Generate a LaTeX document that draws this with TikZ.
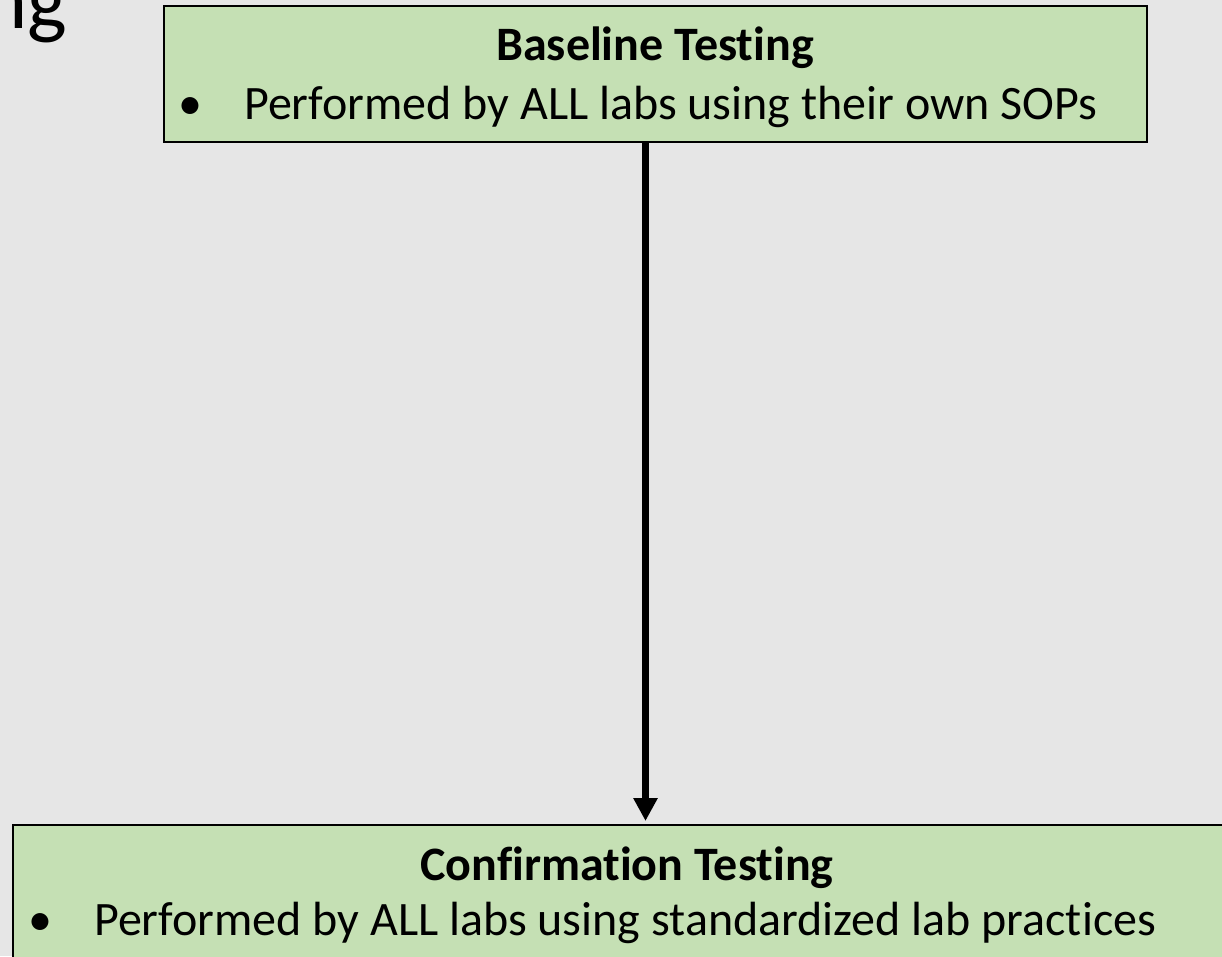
\documentclass[tikz,border=0pt]{standalone}
\usepackage{fontspec}
\setmainfont{Carlito}[Ligatures={NoCommon}]
\usetikzlibrary{arrows.meta,positioning}
\definecolor{slidegray}{HTML}{E6E6E6}
\definecolor{boxgreen}{HTML}{C5E0B4}

\begin{document}
\begin{tikzpicture}[
  x=1pt, y=-1pt,
  box/.style={draw, line width=2pt, fill=boxgreen, anchor=north west, inner sep=0pt},
  head/.style={inner sep=0pt, anchor=base, font=\bfseries\fontsize{48}{48}\selectfont},
  item/.style={inner sep=0pt, anchor=base west, font=\fontsize{48}{52}\selectfont},
  arr/.style={-{Triangle[length=23pt, width=23pt]}, line width=7pt}
]
  \fill[slidegray] (0,0) rectangle (1222,956);
  \useasboundingbox (0,0) rectangle (1222,956);

  % cut-off slide title
  \node[inner sep=0pt, anchor=base east, font=\fontsize{84}{84}\selectfont] (title) at (67,28) {ng};

  % boxes
  \node[box, minimum width=983pt, minimum height=136pt] (base) at (163,5) {};
  \node[box, minimum width=1240pt, minimum height=180pt] (conf) at (12,824) {};

  % box texts
  \node[head] (basehead) at (655,60) {Baseline Testing};
  \node[item] (baseitem) at (178,119) {\makebox[66pt][l]{•}Performed by ALL labs using their own SOPs};
  \node[head] (confhead) at (627,880) {Confirmation Testing};
  \node[item] (confitem) at (28,935) {\makebox[66pt][l]{•}Performed by ALL labs using standardized lab practices};

  \draw[arr, shorten >=3pt] ([xshift=-10pt]base.south) -- ([xshift=-10pt]base.south |- conf.north);
\end{tikzpicture}
\end{document}
